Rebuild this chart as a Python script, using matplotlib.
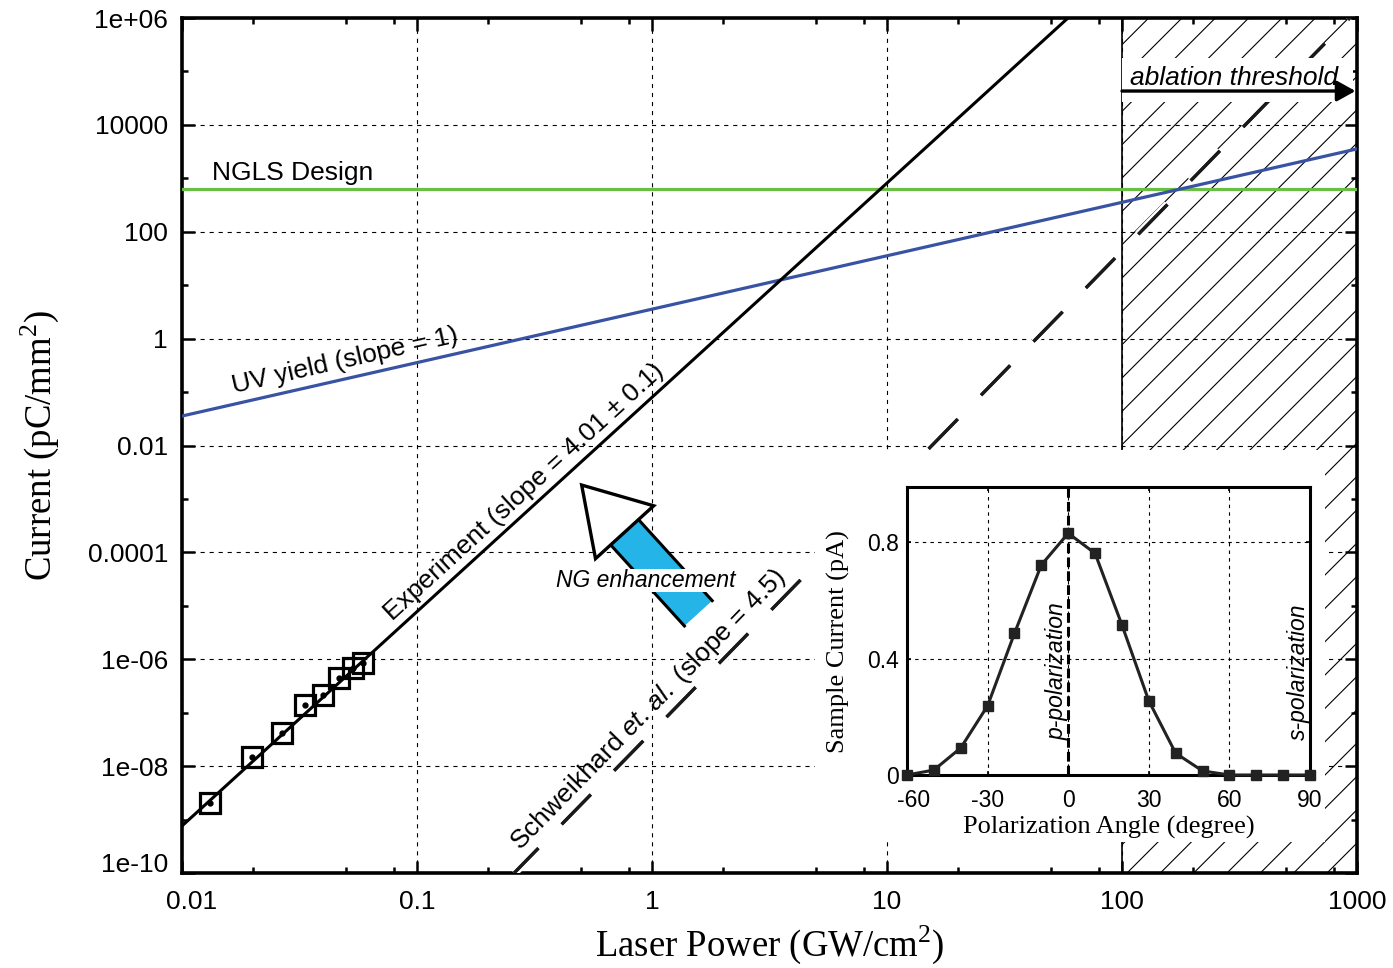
import numpy as np
import matplotlib
matplotlib.use("Agg")
import matplotlib.pyplot as plt
import matplotlib.patheffects as pe
from matplotlib.patches import Polygon, Rectangle
from matplotlib.lines import Line2D
from matplotlib.transforms import IdentityTransform, ScaledTranslation
from matplotlib.ticker import FixedLocator, FixedFormatter, NullFormatter

plt.rcParams['font.family'] = ['Liberation Sans', 'DejaVu Sans']
plt.rcParams['mathtext.fontset'] = 'custom'
plt.rcParams['mathtext.rm'] = 'Liberation Serif'
plt.rcParams['mathtext.it'] = 'Liberation Sans:italic'
plt.rcParams['hatch.linewidth'] = 0.8
plt.rcParams['lines.scale_dashes'] = False

# measured photoemission points
power_pts = [0.0132, 0.0199, 0.0266, 0.0334, 0.0399, 0.0467, 0.0533, 0.0587]
current_pts = [2.02e-9, 1.50e-8, 4.12e-8, 1.40e-7, 2.14e-7, 4.41e-7, 6.78e-7, 8.41e-7]

# straight lines on log-log axes, given by their end points
exp_fit_x = [0.01, 58.9]
exp_fit_y = [7.6e-10, 1e6]
uv_x = [0.01, 1000]
uv_y = [0.0356, 3550]
schw_x = [0.259, 931]
schw_y = [1e-10, 1e6]
ngls_x = [0.01, 1000]
ngls_y = [630, 630]
ablation_x = [100, 1000]

# NG enhancement arrow (tail -> tip)
ng_tail = (1.574, 7.24e-6)
ng_tip = (0.502, 1.82e-3)

x_ticks = [0.01, 0.1, 1, 10, 100, 1000]
x_labels = ['0.01', '0.1', '1', '10', '100', '1000']
x_minor = [m * 10.0 ** k for k in range(-2, 3) for m in (2, 5, 8)]
y_ticks = [1e-10, 1e-8, 1e-6, 1e-4, 1e-2, 1, 1e2, 1e4, 1e6]
y_labels = ['1e-10', '1e-08', '1e-06', '0.0001', '0.01', '1', '100', '10000', '1e+06']
y_minor = [1e-9, 1e-7, 1e-5, 1e-3, 1e-1, 1e1, 1e3, 1e5]

# inset: polarization scan
angle = [-60, -50, -40, -30, -20, -10, 0, 10, 20, 30, 40, 50, 60, 70, 80, 90]
sample_current = [0.0, 0.017, 0.093, 0.238, 0.487, 0.722, 0.831, 0.762,
                  0.516, 0.255, 0.075, 0.014, 0.0, 0.0, 0.0, 0.0]
inset_xticks = [-60, -30, 0, 30, 60, 90]
inset_yticks = [0, 0.4, 0.8]
inset_ylabels = ['0', '0.4', '0.8']

W, H = 1393, 968
fig = plt.figure(figsize=(W / 100, H / 100), dpi=100)
ax = fig.add_axes([182 / W, 95 / H, 1175 / W, 855 / H])
ax.set_xscale('log')
ax.set_yscale('log')
ax.set_xlim(0.01, 1000)
ax.set_ylim(1e-10, 1e6)

ax.xaxis.set_major_locator(FixedLocator(x_ticks))
ax.xaxis.set_major_formatter(FixedFormatter(x_labels))
ax.xaxis.set_minor_locator(FixedLocator(x_minor))
ax.xaxis.set_minor_formatter(NullFormatter())
ax.yaxis.set_major_locator(FixedLocator(y_ticks))
ax.yaxis.set_major_formatter(FixedFormatter(y_labels))
ax.yaxis.set_minor_locator(FixedLocator(y_minor))
ax.yaxis.set_minor_formatter(NullFormatter())
ax.tick_params(which='both', direction='in', top=True, right=True, width=1.8)
ax.tick_params(which='major', length=9, labelsize=19)
ax.tick_params(which='minor', length=4)
ax.tick_params(axis='y', pad=10)
ax.tick_params(axis='x', pad=12)
for s in ax.spines.values():
    s.set_linewidth(2.6)
ax.grid(True, which='major', color='black', lw=0.8, ls=(0, (3, 3.5)))

ax.set_xlabel('Laser Power (GW/cm$^2$)', family='Liberation Serif', fontsize=26.5, labelpad=7)
ax.set_ylabel('Current (pC/mm$^2$)', family='Liberation Serif', fontsize=26.5, labelpad=19)

# ablation region
ax.axvspan(ablation_x[0], ablation_x[1], facecolor='none', edgecolor='black',
           hatch='/', lw=0, zorder=1)
ax.axvline(ablation_x[0], color='black', lw=1.2, zorder=2)

ax.plot(ngls_x, ngls_y, color='#6abd45', lw=2.3, zorder=3)
ax.plot(uv_x, uv_y, color='#3953a4', lw=2.3, zorder=3)
ax.plot(exp_fit_x, exp_fit_y, color='black', lw=2.2, zorder=3)
ax.plot(schw_x, schw_y, color='#1a1a1a', lw=2.3, ls=(5, (30, 24)), zorder=3,
        path_effects=[pe.withStroke(linewidth=6, foreground='white'), pe.Normal()])

ax.plot(power_pts, current_pts, ls='none', marker='s', ms=14.5, mfc='none',
        mec='black', mew=2.3, zorder=5)
ax.plot(power_pts, current_pts, ls='none', marker='o', ms=3.5, color='black', zorder=5)


def on_line(xs, ys, x0):
    t = (np.log10(x0) - np.log10(xs[0])) / (np.log10(xs[1]) - np.log10(xs[0]))
    return 10 ** (np.log10(ys[0]) + t * (np.log10(ys[1]) - np.log10(ys[0])))


def line_label(xs, ys, x0, text, off=3, **kw):
    p0 = ax.transData.transform((xs[0], ys[0]))
    p1 = ax.transData.transform((xs[1], ys[1]))
    ang = np.degrees(np.arctan2(p1[1] - p0[1], p1[0] - p0[0]))
    r = np.radians(ang)
    ax.annotate(text, xy=(x0, on_line(xs, ys, x0)),
                xytext=(-off * np.sin(r), off * np.cos(r)), textcoords='offset points',
                rotation=ang, rotation_mode='anchor', ha='center', va='bottom',
                fontsize=19, zorder=6, **kw)


line_label(uv_x, uv_y, 0.0514, 'UV yield (slope = 1)', off=4)
line_label(exp_fit_x, exp_fit_y, 0.318, 'Experiment (slope = 4.01 ± 0.1)')
line_label(schw_x, schw_y, 1.097, r'Schweikhard $\it{et.\,al.}$ (slope = 4.5)')

ax.text(0.0134, 930, 'NGLS Design', fontsize=19, va='baseline', zorder=6)

# ablation threshold label and arrow
ax.add_patch(Rectangle((100, 2.7e4), 860, 1.75e5 - 2.7e4, facecolor='white',
                       edgecolor='none', zorder=4))
ax.text(108, 5.57e4, 'ablation threshold', fontsize=19, style='italic',
        va='baseline', zorder=6)
ax.annotate('', xy=(985, 4.3e4), xytext=(100, 4.3e4),
            arrowprops=dict(arrowstyle='-|>,head_length=0.45,head_width=0.25',
                            mutation_scale=25, lw=2.4, color='black',
                            shrinkA=0, shrinkB=0), zorder=6)

# NG enhancement arrow, built in display pixels
S = ax.transData.transform(ng_tail)
T = ax.transData.transform(ng_tip)
u = (T - S) / np.hypot(*(T - S))
n = np.array([-u[1], u[0]])
body_w, head_w, head_l = 37.6, 78.6, 63.8
B = T - u * head_l
body = [S + n * body_w / 2, B + n * body_w / 2, B - n * body_w / 2, S - n * body_w / 2]
ax.add_patch(Polygon(body, closed=True, facecolor='#25b4e8', edgecolor='none',
                     transform=IdentityTransform(), zorder=6))
for side in (1, -1):
    a, b = S + side * n * body_w / 2, B + side * n * body_w / 2
    ax.add_line(Line2D([a[0], b[0]], [a[1], b[1]], color='black', lw=2.2,
                       transform=IdentityTransform(), zorder=6.5))
head = [T, B + n * head_w / 2, B - n * head_w / 2]
ax.add_patch(Polygon(head, closed=True, facecolor='white', edgecolor='black', lw=2.4,
                     joinstyle='miter', transform=IdentityTransform(), zorder=7))
ax.text(0.943, 3.04e-5, 'NG enhancement', fontsize=16.5, style='italic', ha='center',
        va='center', zorder=8, bbox=dict(facecolor='white', edgecolor='none', pad=0))

# corner tick labels nudged apart, as in the reference
xt0 = ax.xaxis.get_major_ticks()[0].label1
xt0.set_transform(xt0.get_transform() + ScaledTranslation(0.10, 0, fig.dpi_scale_trans))
yt0 = ax.yaxis.get_major_ticks()[0].label1
yt0.set_transform(yt0.get_transform() + ScaledTranslation(0, 0.10, fig.dpi_scale_trans))

# white area behind the inset
fig.add_artist(Rectangle((815 / W, 1 - 842 / H), 510 / W, 392 / H, facecolor='white',
                         edgecolor='none', transform=fig.transFigure, zorder=2))

axi = fig.add_axes([907 / W, 193 / H, 403 / W, 288 / H], zorder=3)
axi.set_xlim(-60, 90)
axi.set_ylim(0, 0.99)
axi.set_xticks(inset_xticks)
axi.set_xticklabels([str(v) for v in inset_xticks])
axi.set_yticks(inset_yticks)
axi.set_yticklabels(inset_ylabels)
axi.tick_params(direction='in', length=3, width=1.2, labelsize=16.5, top=True, right=True)
axi.tick_params(axis='x', pad=10)
axi.tick_params(axis='y', pad=6)
axi.grid(True, color='black', lw=0.8, ls=(0, (2.5, 3)))
for s in axi.spines.values():
    s.set_linewidth(2.2)
axi.axvline(0, color='black', lw=2.2, ls=(0, (7, 3)), zorder=3)
axi.plot(angle, sample_current, color='#222222', lw=2.2, marker='s', ms=7,
         clip_on=False, zorder=4)
axi.text(-4.0, 0.12, 'p-polarization', rotation=90, style='italic', fontsize=16.5,
         ha='center', va='bottom', zorder=5)
axi.text(85.8, 0.12, 's-polarization', rotation=90, style='italic', fontsize=16.5,
         ha='center', va='bottom', zorder=5)
axi.set_xlabel('Polarization Angle (degree)', family='Liberation Serif', fontsize=19, labelpad=3)
axi.set_ylabel('Sample Current (pA)', family='Liberation Serif', fontsize=19)
axi.yaxis.set_label_coords(-0.141, 0.462)
it0 = axi.xaxis.get_major_ticks()[0].label1
it0.set_transform(it0.get_transform() + ScaledTranslation(0.07, 0, fig.dpi_scale_trans))

fig.savefig('out.png', dpi=100)
